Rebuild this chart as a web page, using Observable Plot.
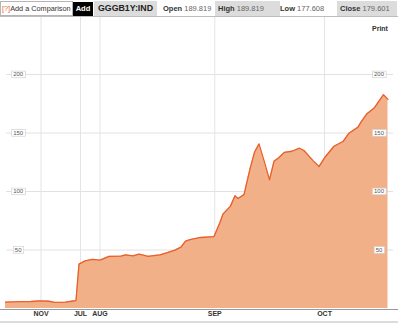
<!DOCTYPE html>
<html>
<head>
<meta charset="utf-8">
<script src="https://cdn.jsdelivr.net/npm/d3@7"></script>
<script src="https://cdn.jsdelivr.net/npm/@observablehq/plot@0.6"></script>
<style>
  html, body { margin: 0; padding: 0; background: #fff; }
  body { width: 400px; height: 323px; position: relative; overflow: hidden; font-family: "Liberation Sans", Arial, sans-serif; }
  #header { position: absolute; left: 0; top: 0; width: 398px; height: 16px; border-bottom: 1px solid #bdbdbd; }
  .hb { position: absolute; top: 1px; height: 15px; line-height: 15px; font-size: 7.5px; white-space: nowrap; box-sizing: border-box; }
  .lbl { font-weight: bold; color: #333; }
  .val { color: #666; }
  .gray { background: #dcdcdc; }
  #chart { position: absolute; left: 0; top: 17px; }
  #print { position: absolute; left: 372px; top: 25px; font-size: 7px; font-weight: bold; color: #333; }
  #bottombar { position: absolute; left: 0; top: 321px; width: 398px; height: 2px; background: #dcdcdc; }
</style>
</head>
<body>
<div id="header">
  <div class="hb" style="left:0;width:73px;border:1px solid #b5b5b5;line-height:13px;padding-left:1px;font-size:7.3px;color:#333;"><span style="color:#e8602c">[?]</span>Add a Comparison</div>
  <div class="hb" style="left:73px;top:2px;height:14px;width:20px;background:#000;color:#fff;font-weight:bold;text-align:center;line-height:14px;">Add</div>
  <div class="hb gray" style="left:94px;width:63px;text-align:center;font-weight:bold;font-size:8.8px;color:#222;">GGGB1Y:IND</div>
  <div class="hb" style="left:163px;"><span class="lbl">Open</span> <span class="val">189.819</span></div>
  <div class="hb gray" style="left:215px;width:65px;padding-left:3px;"><span class="lbl">High</span> <span class="val">189.819</span></div>
  <div class="hb" style="left:280px;"><span class="lbl">Low</span> <span class="val">177.608</span></div>
  <div class="hb gray" style="left:337px;width:60px;padding-left:3px;"><span class="lbl">Close</span> <span class="val">179.601</span></div>
</div>
<div id="chart"></div>
<div id="print">Print</div>
<div id="bottombar"></div>
<script>
// Trading-day index (compressed time axis) and index values
const days = [0, 10, 17, 23, 29, 33, 40, 45, 47, 49, 53, 58, 63, 69, 77, 80, 85, 89, 92, 95,
  103, 108, 113, 117, 120, 123, 130, 137, 139, 143, 145, 150, 153, 155, 159, 163, 166, 169,
  173, 176, 179, 182, 186, 191, 196, 199, 205, 209, 213, 219, 225, 229, 235, 237, 241, 246,
  249, 252, 255];
const values = [5.5, 5.8, 6.0, 6.6, 6.2, 5.2, 5.4, 6.4, 6.8, 37.9, 40.7, 42.0, 41.3, 44.6,
  44.8, 45.9, 45.0, 46.4, 45.6, 44.6, 45.9, 47.8, 49.9, 52.5, 57.5, 58.8, 60.7, 61.3, 61.5,
  73.5, 80.7, 87.5, 96.4, 94.0, 97.3, 119.3, 133.5, 140.7, 123.6, 110.0, 125.8, 128.7, 133.5,
  134.4, 137.0, 135.0, 126.4, 121.3, 129.3, 138.7, 142.7, 149.8, 155.0, 159.3, 166.5, 171.6,
  177.3, 182.7, 178.7];
const tickDays = [23.7, 50, 63, 139.5, 212.7];
const tickLabels = ["NOV", "JUL", "AUG", "SEP", "OCT"];
const yTicks = [50, 100, 150, 200];

const data = days.map((d, i) => ({day: d, value: values[i]}));
const labelOf = new Map(tickDays.map((d, i) => [d, tickLabels[i]]));

const chart = Plot.plot({
  width: 400,
  height: 304,
  marginLeft: 0,
  marginRight: 0,
  marginTop: 0,
  marginBottom: 13,
  x: {domain: [-10 / 3, 790 / 3], label: null},
  y: {domain: [0, 200], range: [291, 57], axis: null, label: null},
  style: {fontFamily: "'Liberation Sans', Arial, sans-serif", background: "transparent", overflow: "visible"},
  marks: [
    Plot.ruleX(tickDays, {stroke: "#e4e4e4", strokeWidth: 1}),
    Plot.ruleY(yTicks, {stroke: "#e2e2e2", insetLeft: 6, insetRight: 7}),
    Plot.areaY(data, {x: "day", y: "value", fill: "#f1b088"}),
    Plot.lineY(data, {x: "day", y: "value", stroke: "#e8602c", strokeWidth: 1.3}),
    Plot.ruleY([0], {stroke: "#9a9a9a", dy: 1, insetRight: 2}),
    Plot.axisX({ticks: tickDays, tickSize: 0, tickPadding: 3, tickFormat: d => labelOf.get(d),
      label: null, fontSize: 7, fontWeight: "bold", fill: "#333"}),
    Plot.text(yTicks, {y: d => d, text: d => String(d), frameAnchor: "left", dx: 17.7,
      textAnchor: "middle", fontSize: 6, fill: "#555"}),
    Plot.text(yTicks, {y: d => d, text: d => String(d), frameAnchor: "right", dx: -21.5,
      textAnchor: "middle", fontSize: 6, fill: "#555"})
  ]
});
document.getElementById("chart").appendChild(chart);

// white label boxes behind the y tick labels
d3.select(chart).selectAll('g[aria-label="text"] text').each(function () {
  const bb = this.getBBox();
  const r = document.createElementNS("http://www.w3.org/2000/svg", "rect");
  r.setAttribute("x", bb.x - 1.5);
  r.setAttribute("y", bb.y - 0.3);
  r.setAttribute("width", bb.width + 3);
  r.setAttribute("height", bb.height + 0.6);
  r.setAttribute("fill", "#fff");
  r.setAttribute("stroke", "#d2d2d2");
  r.setAttribute("stroke-width", "0.7");
  const t = this.getAttribute("transform");
  if (t) r.setAttribute("transform", t);
  this.parentNode.insertBefore(r, this);
});
</script>
</body>
</html>
